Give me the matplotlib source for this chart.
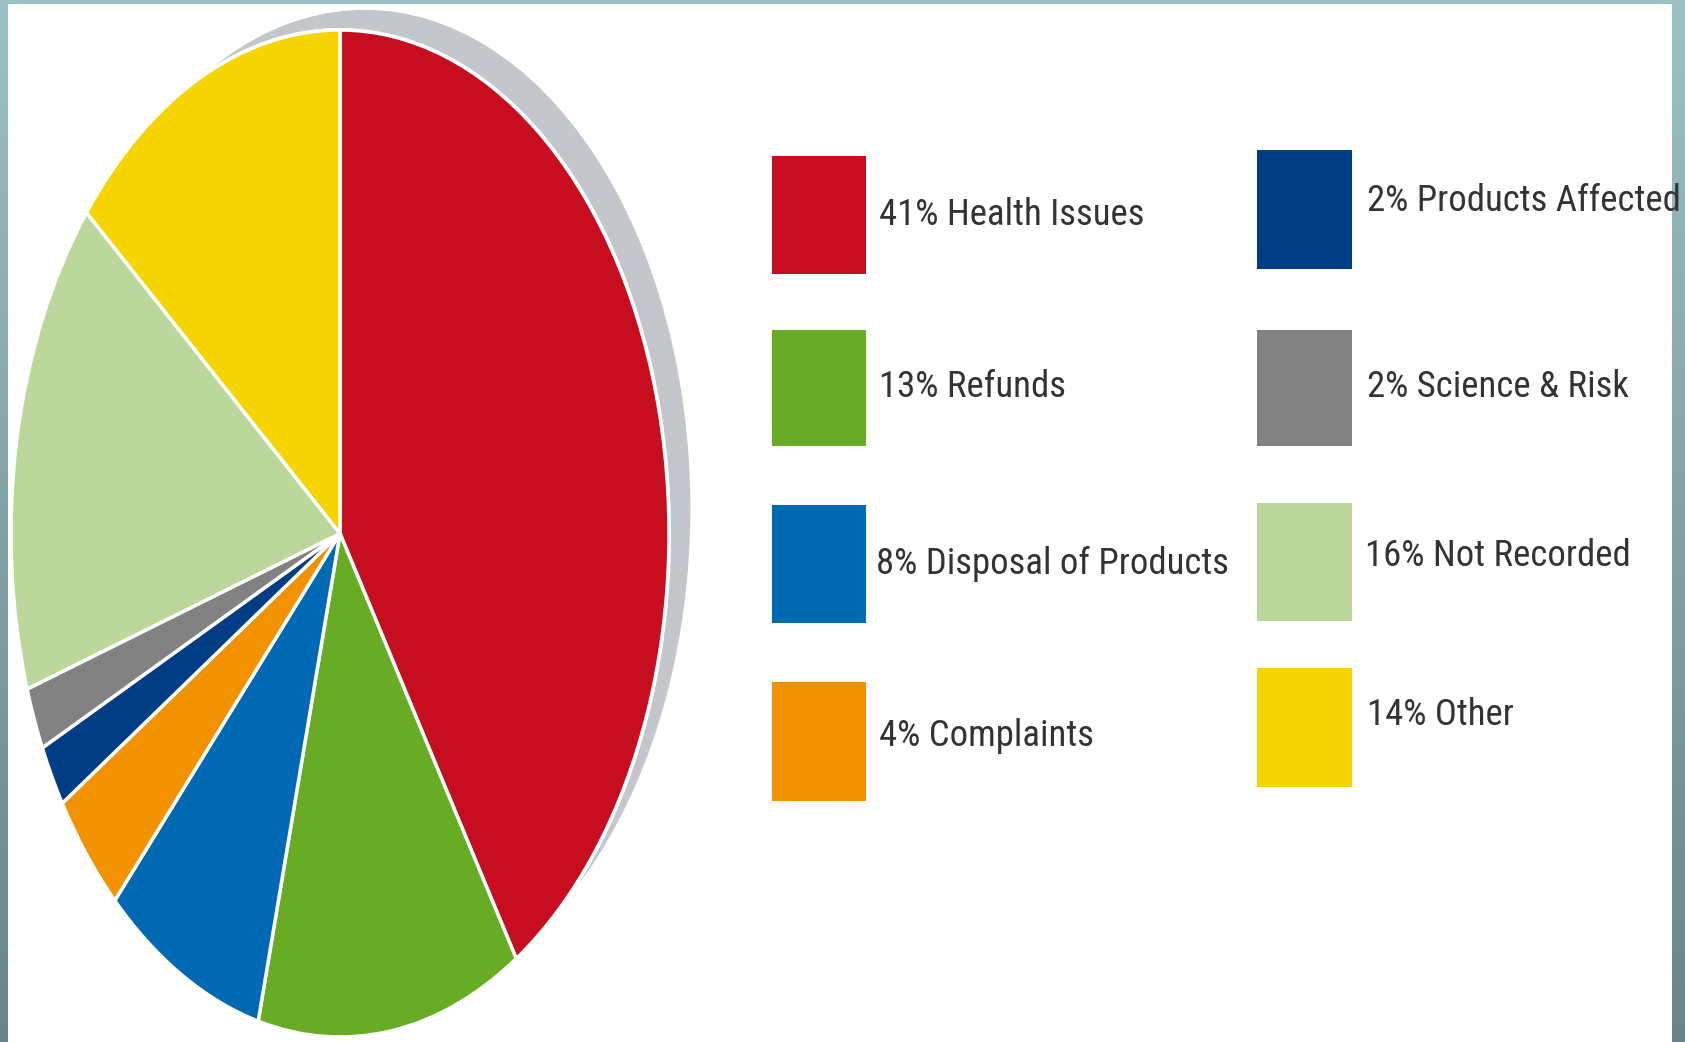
import matplotlib
matplotlib.use("Agg")
import numpy as np
from matplotlib import pyplot as plt
from matplotlib import font_manager
from matplotlib.colors import LinearSegmentedColormap
from matplotlib.patches import Ellipse, Rectangle

# data
labels = ["Health Issues", "Refunds", "Disposal of Products", "Complaints",
          "Products Affected", "Science & Risk", "Not Recorded", "Other"]
shares = [41, 13, 8, 4, 2, 2, 16, 14]
colors = ["#c70d20", "#68ab25", "#0069b4", "#f39200",
          "#003d85", "#828282", "#bcd79b", "#f5d400"]

# legend layout in pixels: square (left, right, top, bottom), text (left, center y)
sq_x = [(772, 866)] * 4 + [(1257, 1352)] * 4
sq_y = [(156, 274), (330, 446), (505, 623), (682, 801),
        (150, 269), (330, 446), (503, 621), (668, 787)]
txt_pos = [(879, 215), (879, 387), (876, 564), (879, 736),
           (1367, 201), (1367, 387), (1365, 556), (1367, 715)]

W, H = 1685, 1042
fig = plt.figure(figsize=(W / 100, H / 100), dpi=100)

# teal frame with gradient, white panel inside
bg = fig.add_axes([0, 0, 1, 1])
frame_cmap = LinearSegmentedColormap.from_list("frame", ["#9cc0c4", "#6a8487"])
bg.imshow(np.linspace(0, 1, 256).reshape(-1, 1), extent=[0, 1, 0, 1],
          aspect="auto", cmap=frame_cmap)
bg.add_patch(Rectangle((8 / W, 0), (1672 - 8) / W, (H - 4) / H, fc="white", ec="none"))
bg.set_xlim(0, 1)
bg.set_ylim(0, 1)
bg.axis("off")

# pie, stretched into an ellipse
ax = fig.add_axes([11 / W, 5 / H, 658 / W, 1007 / H])
ax.add_patch(Ellipse((0.075, 0.05), 1.98, 1.98, fc="#c3c6cb", ec="none", zorder=0, clip_on=False))
ax.add_patch(Ellipse((0, 0), 2.012, 2.008, fc="white", ec="none", zorder=0.5, clip_on=False))
ax.pie(shares, colors=colors, startangle=90, counterclock=False,
       wedgeprops=dict(edgecolor="white", linewidth=2.5))
ax.set_aspect("auto")
ax.set_xlim(-1, 1)
ax.set_ylim(-1, 1)
ax.axis("off")

names = {f.name for f in font_manager.fontManager.ttflist}
font = next((n for n in ["Liberation Sans Narrow", "DejaVu Sans Condensed",
                         "Roboto Condensed", "Liberation Sans"] if n in names), "DejaVu Sans")

for i, (lab, val) in enumerate(zip(labels, shares)):
    x0, x1 = sq_x[i]
    y0, y1 = sq_y[i]
    fig.add_artist(Rectangle((x0 / W, 1 - y1 / H), (x1 - x0) / W, (y1 - y0) / H,
                             transform=fig.transFigure, fc=colors[i], ec="none"))
    tx, ty = txt_pos[i]
    fig.text(tx / W, 1 - ty / H, f"{val}% {lab}", va="center", ha="left",
             fontsize=26.5, color="#333333", family=font)

fig.savefig("out.png", dpi=100)
